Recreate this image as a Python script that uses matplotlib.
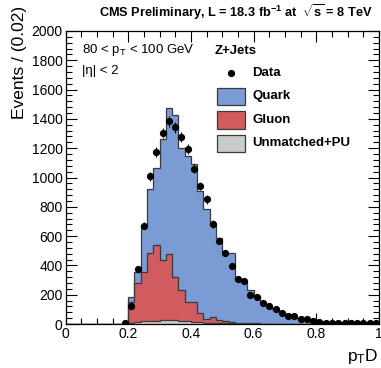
import numpy as np
import matplotlib
matplotlib.use("Agg")
import matplotlib.pyplot as plt
from matplotlib.patches import Rectangle
from matplotlib.lines import Line2D

plt.rcParams['font.family'] = ['Liberation Sans', 'DejaVu Sans']
plt.rcParams['mathtext.fontset'] = 'custom'
plt.rcParams['mathtext.rm'] = 'Liberation Sans'
plt.rcParams['mathtext.it'] = 'Liberation Sans:italic'
plt.rcParams['mathtext.bf'] = 'Liberation Sans:bold'

# p_T D, 50 bins of 0.02 from 0 to 1
bin_edges = np.linspace(0.0, 1.0, 51)

# events per bin (bins 0..49)
unmatched_pu = [0, 0, 0, 0, 0, 0, 0, 0, 0, 0,
                10, 14, 18, 20, 22, 26, 30, 24, 20, 18,
                14, 12, 10, 8, 6, 5, 4, 3, 3, 2,
                2, 1, 1, 1, 1, 0, 0, 0, 0, 0,
                0, 0, 0, 0, 0, 0, 0, 0, 0, 0]
gluon = [0, 0, 0, 0, 0, 0, 0, 0, 0, 0,
         140, 267, 339, 463, 519, 414, 445, 296, 211, 132,
         136, 63, 26, 39, 24, 17, 12, 7, 5, 3,
         2, 2, 1, 1, 0, 0, 0, 0, 0, 0,
         0, 0, 0, 0, 0, 0, 0, 0, 0, 0]
quark = [0, 0, 0, 0, 0, 0, 0, 0, 0, 0,
         35, 72, 317, 441, 523, 824, 1000, 1104, 969, 999,
         942, 833, 746, 631, 560, 461, 467, 290, 282, 225,
         186, 147, 123, 99, 80, 65, 50, 40, 30, 25,
         20, 16, 13, 11, 9, 8, 7, 6, 5, 5]
data = [0, 0, 0, 0, 0, 0, 0, 0, 0, 8,
        122, 375, 672, 1007, 1172, 1303, 1385, 1342, 1275, 1196,
        1060, 942, 850, 683, 567, 483, 398, 310, 291, 196,
        183, 142, 120, 99, 74, 56, 52, 36, 31, 19,
        12, 9, 8, 7, 7, 6, 6, 5, 5, 4]

W, H = 381, 368
fig = plt.figure(figsize=(W / 100, H / 100), dpi=100)
ax = fig.add_axes([65.5 / W, 1 - 324 / H, (379 - 65.5) / W, (324 - 31) / H])

c_quark = '#7b9bd5'
c_gluon = '#d15c5f'
c_pu = '#cacaca'
edge = '#3a3a3a'

# stacked: unmatched at the bottom, gluon, then quark
grey_top = np.array(unmatched_pu, float)
red_top = grey_top + np.array(gluon, float)
blue_top = red_top + np.array(quark, float)

for vals, col in [(blue_top, c_quark), (red_top, c_gluon), (grey_top, c_pu)]:
    ax.stairs(vals, bin_edges, fill=True, color=col, zorder=2)
    ax.stairs(vals, bin_edges, color=edge, lw=0.9, zorder=3)

d = np.array(data, float)
centers = 0.5 * (bin_edges[1:] + bin_edges[:-1])
m = d > 0
ax.errorbar(centers[m], d[m], yerr=np.sqrt(d[m]), fmt='o', color='black',
            ms=4.2, elinewidth=0.8, capsize=0, zorder=5)

ax.set_xlim(0, 1)
ax.set_ylim(0, 2000)
ax.set_xticks(np.arange(0, 1.01, 0.2))
ax.set_xticklabels(['0', '0.2', '0.4', '0.6', '0.8', '1'])
ax.set_xticks(np.arange(0, 1.001, 0.05), minor=True)
ax.set_yticks(np.arange(0, 2001, 200))
ax.set_yticks(np.arange(0, 2001, 40), minor=True)
ax.tick_params(which='both', direction='in', top=True, right=True,
               labelsize=10, width=0.8, pad=2)
ax.tick_params(which='major', length=8)
ax.tick_params(which='minor', length=4)
for s in ax.spines.values():
    s.set_linewidth(0.9)

fig.text(20 / W, 1 - 62 / H, 'Events / (0.02)', rotation=90, fontsize=12.5,
         ha='center', va='center')
fig.text(378 / W, 1 - 356 / H, r'p$_{\mathrm{T}}$D', fontsize=12.5,
         ha='right', va='center')
fig.text(373 / W, 1 - 12 / H,
         r'CMS Preliminary, L = 18.3 fb$^{\mathbf{-1}}$ at  $\sqrt{\mathbf{s}}$ = 8 TeV',
         fontsize=9.2, fontweight='bold', ha='right', va='center')

fig.text(82 / W, 1 - 50 / H, r'80 < p$_{\mathrm{T}}$ < 100 GeV', fontsize=9.5,
         ha='left', va='center')
fig.text(82 / W, 1 - 71 / H, '|η| < 2', fontsize=9.5, ha='left', va='center')

# legend
fig.text(215 / W, 1 - 51 / H, 'Z+Jets', fontsize=9.5, fontweight='bold',
         ha='left', va='center')
rows = [('Data', None, 73), ('Quark', c_quark, 96.5),
        ('Gluon', c_gluon, 120), ('Unmatched+PU', c_pu, 143.5)]
for label, col, yp in rows:
    if col is None:
        fig.add_artist(Line2D([231 / W], [1 - yp / H], marker='o', color='black',
                              ms=4.2, transform=fig.transFigure))
    else:
        fig.add_artist(Rectangle((217 / W, 1 - (yp + 8.5) / H), 28 / W, 17 / H,
                                 facecolor=col, edgecolor=edge, lw=0.9,
                                 transform=fig.transFigure))
    fig.text(252 / W, 1 - yp / H, label, fontsize=9.5, fontweight='bold',
             ha='left', va='center')

fig.savefig('out.png', dpi=100)
